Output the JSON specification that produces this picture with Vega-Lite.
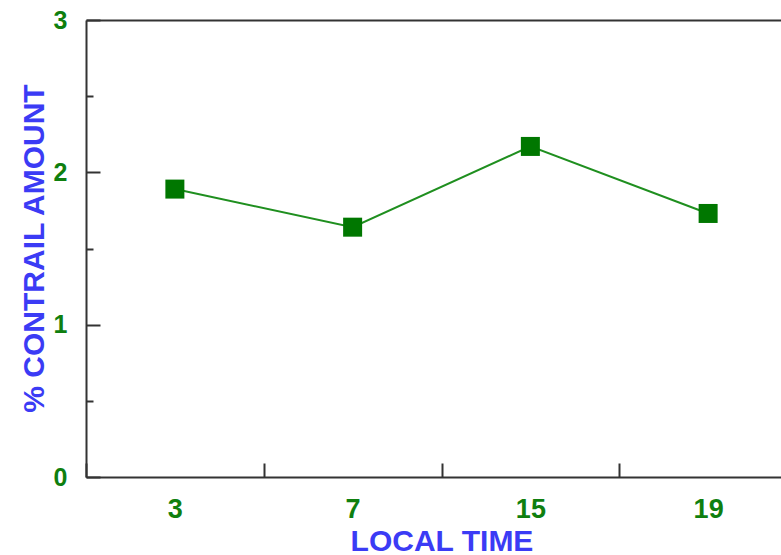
{
  "$schema": "https://vega.github.io/schema/vega-lite/v6.json",
  "width": 695,
  "height": 457,
  "autosize": "none",
  "padding": {"left": 86, "top": 20, "right": 0, "bottom": 78},
  "background": "white",
  "config": {
    "view": {"stroke": null},
    "axis": {
      "grid": false,
      "domainColor": "#333333",
      "domainWidth": 2,
      "tickColor": "#333333",
      "tickWidth": 2,
      "labelFont": "Liberation Sans",
      "labelFontWeight": "bold",
      "labelColor": "#0f7f0f",
      "titleFont": "Liberation Sans",
      "titleFontWeight": "bold",
      "titleColor": "#3b3bf5",
      "titleFontSize": 30
    }
  },
  "data": {
    "values": [
      {"local_time": "3", "contrail_pct": 1.89},
      {"local_time": "7", "contrail_pct": 1.64},
      {"local_time": "15", "contrail_pct": 2.17},
      {"local_time": "19", "contrail_pct": 1.73}
    ]
  },
  "layer": [
    {
      "mark": {"type": "line", "color": "#1f8f1f", "strokeWidth": 2},
      "encoding": {
        "x": {
          "field": "local_time",
          "type": "nominal",
          "sort": null,
          "scale": {"type": "band", "range": [0, 711], "paddingInner": 0, "paddingOuter": 0},
          "axis": {
            "orient": "bottom",
            "title": "LOCAL TIME",
            "labelAngle": 0,
            "tickBand": "extent",
            "tickSize": -14,
            "labelPadding": 54,
            "labelFontSize": 27,
            "labelBaseline": "alphabetic",
            "titleY": 73,
            "titleBaseline": "alphabetic"
          }
        },
        "y": {
          "field": "contrail_pct",
          "type": "quantitative",
          "scale": {"domain": [0, 3], "nice": false},
          "axis": {
            "values": [0, 0.5, 1, 1.5, 2, 2.5, 3],
            "labelExpr": "datum.value % 1 === 0 ? format(datum.value, 'd') : ''",
            "tickSize": {"condition": {"test": "datum.value % 1 === 0", "value": -14}, "value": -7},
            "labelPadding": 33,
            "labelFontSize": 25,
            "labelFlush": false,
            "title": "% CONTRAIL AMOUNT",
            "titleX": -43,
            "titleY": 228,
            "titleBaseline": "alphabetic"
          }
        }
      }
    },
    {
      "mark": {"type": "square", "size": 361, "color": "#007700", "opacity": 1},
      "encoding": {
        "x": {
          "field": "local_time",
          "type": "nominal",
          "sort": null,
          "axis": {"orient": "top", "labels": false, "ticks": false, "title": null, "domain": true}
        },
        "y": {"field": "contrail_pct", "type": "quantitative"}
      }
    }
  ],
  "resolve": {"axis": {"x": "independent"}}
}
